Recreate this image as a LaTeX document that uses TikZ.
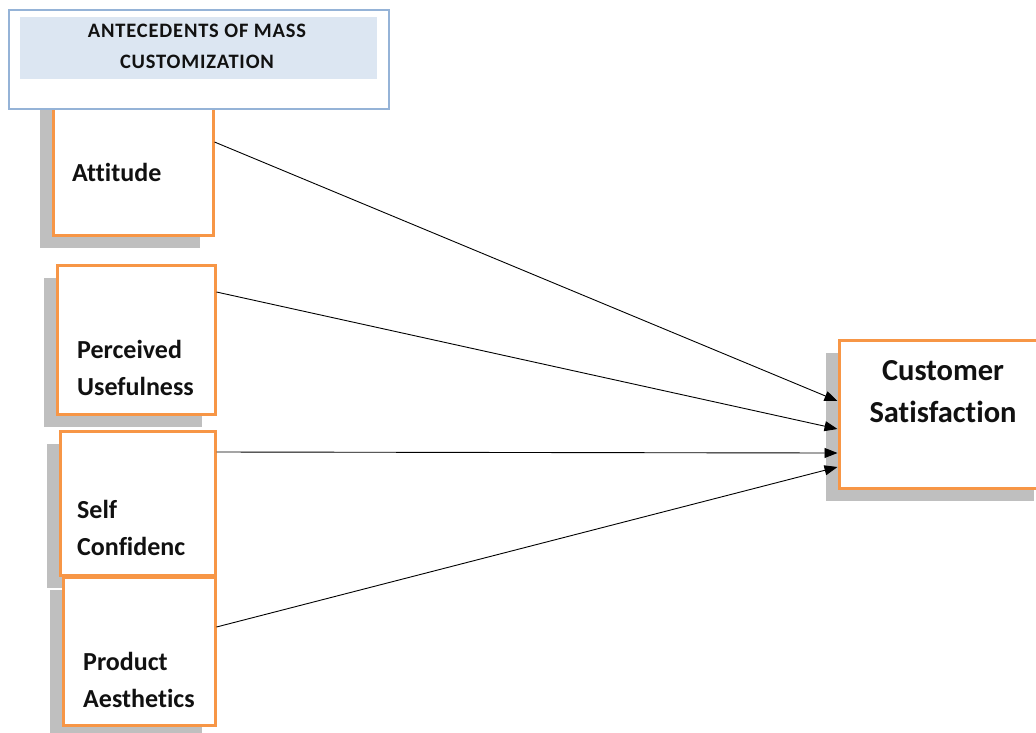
\documentclass[tikz,border=0pt]{standalone}
\usepackage{fontspec}
\setmainfont{Carlito}[Ligatures=NoCommon]
\usetikzlibrary{arrows.meta,shadows}
\definecolor{orng}{HTML}{F79646}
\definecolor{shd}{HTML}{BFBFBF}
\definecolor{tbord}{HTML}{95B3D7}
\definecolor{tfill}{HTML}{DCE6F2}
\definecolor{ink}{HTML}{111111}
\begin{document}
\begin{tikzpicture}[x=1pt,y=-1pt,
  obox/.style={draw=orng,line width=3pt,fill=white,inner sep=0pt,
    general shadow={fill=shd,shadow xshift=-13pt,shadow yshift=-13pt}},
  lbl/.style={inner sep=0pt,anchor=base west,align=left,text=ink,
    font=\fontsize{26}{37}\selectfont\bfseries},
  biglbl/.style={inner sep=0pt,anchor=base,align=center,text=ink,
    font=\fontsize{30.5}{42}\selectfont\bfseries},
  link/.style={line width=0.9pt,-{Triangle[length=13pt,width=10pt]}}]
\clip (0,0) rectangle (1036,732);
\fill[white] (0,0) rectangle (1036,732);
% left boxes
\node[obox,minimum width=160pt,minimum height=140pt] (att) at (133,165) {};
\node[obox,minimum width=158pt,minimum height=149pt] (perc) at (136,339.5) {};
\node[obox,minimum width=155pt,minimum height=144pt] (self) at (137.5,503) {};
\node[obox,minimum width=152pt,minimum height=148pt] (prod) at (139,651) {};
% right box
\node[obox,minimum width=208pt,minimum height=148pt] (cs) at (943,414) {};
% labels (base = baseline of last line)
\node[lbl] (attT) at (72,181) {Attitude};
\node[lbl] (percT) at (77,395) {Perceived\\Usefulness};
\node[lbl] (selfT) at (77,555) {Self\\Confidenc};
\node[lbl] (prodT) at (83,707) {Product\\Aesthetics};
\node[biglbl] (csT) at (943,422) {Customer\\Satisfaction};
% connectors
\draw[link] ([yshift=23pt]att.east) -- ([yshift=13pt]cs.west);
\draw[link] ([yshift=47.5pt]perc.east) -- ([yshift=-15pt]cs.west);
\draw[link] ([yshift=51pt]self.east) -- ([yshift=-39pt]cs.west);
\draw[link] ([yshift=24pt]prod.east) -- ([yshift=-53pt]cs.west);
% title
\node[draw=tbord,line width=1.2pt,fill=white,minimum width=380pt,minimum height=99pt,inner sep=0pt] (title) at (199,59.5) {};
\node[fill=tfill,minimum width=357pt,minimum height=62pt,inner sep=0pt] (tband) at (198.5,48) {};
\node[inner sep=0pt,anchor=base,align=center,text=ink,font=\fontsize{20.5}{31}\selectfont\bfseries\addfontfeature{LetterSpace=4}] (titleT) at (197,68) {ANTECEDENTS OF MASS\\CUSTOMIZATION};
\end{tikzpicture}
\end{document}
